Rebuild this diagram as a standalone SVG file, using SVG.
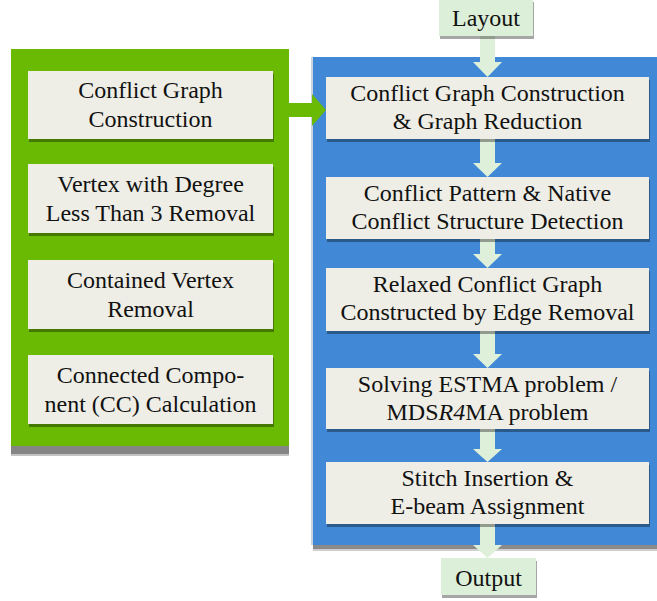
<svg xmlns="http://www.w3.org/2000/svg" width="657" height="601" viewBox="0 0 657 601">
<style>
.box{fill:#eeeee6}
.io{fill:#dcefd8}
.sd{fill:#000;opacity:0.35}
.arr{fill:#dff0da}
text, tspan{font-family:'Liberation Serif','Times New Roman',serif !important}
</style>
<rect width="657" height="601" fill="#fff"/>
<g id="panel-green">
<rect x="11" y="446" width="278" height="8" fill="#858585"/>
<rect x="11" y="454" width="278" height="2" fill="#c4c4c4"/>
<rect x="11" y="49" width="278" height="397" fill="#6ab902"/>
</g>
<g id="panel-blue">
<rect x="313" y="545" width="344" height="4" fill="#8a8a8a"/>
<rect x="313" y="549" width="344" height="2" fill="#cfcfcf"/>
<rect x="311" y="57" width="2" height="488" fill="#c8d4e0"/>
<rect x="313" y="57" width="344" height="488" fill="#4189d6"/>
</g>
<g id="connectors">
<polygon class="arr" points="480,36 495,36 495,62 502,62 487.5,77 473,62 480,62"/>
<polygon class="arr" points="480,139 495,139 495,163 502,163 487.5,177 473,163 480,163"/>
<polygon class="arr" points="480,239 495,239 495,254 502,254 487.5,268 473,254 480,254"/>
<polygon class="arr" points="480,331 495,331 495,354 502,354 487.5,368 473,354 480,354"/>
<polygon class="arr" points="480,429 495,429 495,449 502,449 487.5,462 473,449 480,449"/>
<polygon class="arr" points="480,524 495,524 495,545 502,545 487.5,558 473,545 480,545"/>
<polygon points="289,103 312,103 312,94 326,110 312,126 312,117 289,117" fill="#6ab902"/>
</g>
<g id="layout">
<rect class="sd" x="440" y="2" width="94" height="37"/>
<rect class="io" x="439" y="0" width="94" height="36"/>
<text x="486" y="26" font-family="Liberation Serif" font-size="24" fill="#111" text-anchor="middle" style="font-family:'Liberation Serif',serif !important">Layout</text>
</g>
<g id="output">
<rect class="sd" x="442" y="561" width="95" height="37"/>
<rect class="io" x="441" y="558" width="95" height="37"/>
<text x="488.5" y="586" font-family="Liberation Serif" font-size="24" fill="#111" text-anchor="middle" style="font-family:'Liberation Serif',serif !important">Output</text>
</g>
<g id="l1">
<rect class="sd" x="29" y="74" width="245" height="68"/>
<rect class="box" x="28" y="71" width="245" height="68"/>
<text x="150.5" y="98" font-family="Liberation Serif" font-size="24" fill="#111" text-anchor="middle" style="font-family:'Liberation Serif',serif !important">Conflict Graph</text>
<text x="150.5" y="127" font-family="Liberation Serif" font-size="24" fill="#111" text-anchor="middle" style="font-family:'Liberation Serif',serif !important">Construction</text>
</g>
<g id="l2">
<rect class="sd" x="29" y="167" width="245" height="69"/>
<rect class="box" x="28" y="164" width="245" height="69"/>
<text x="150.5" y="192" font-family="Liberation Serif" font-size="24" fill="#111" text-anchor="middle" style="font-family:'Liberation Serif',serif !important">Vertex with Degree</text>
<text x="150.5" y="221" font-family="Liberation Serif" font-size="24" fill="#111" text-anchor="middle" style="font-family:'Liberation Serif',serif !important">Less Than 3 Removal</text>
</g>
<g id="l3">
<rect class="sd" x="29" y="263" width="245" height="69"/>
<rect class="box" x="28" y="260" width="245" height="69"/>
<text x="150.5" y="288" font-family="Liberation Serif" font-size="24" fill="#111" text-anchor="middle" style="font-family:'Liberation Serif',serif !important">Contained Vertex</text>
<text x="150.5" y="317" font-family="Liberation Serif" font-size="24" fill="#111" text-anchor="middle" style="font-family:'Liberation Serif',serif !important">Removal</text>
</g>
<g id="l4">
<rect class="sd" x="29" y="358" width="245" height="69"/>
<rect class="box" x="28" y="355" width="245" height="69"/>
<text x="150.5" y="383" font-family="Liberation Serif" font-size="24" fill="#111" text-anchor="middle" style="font-family:'Liberation Serif',serif !important">Connected Compo-</text>
<text x="150.5" y="412" font-family="Liberation Serif" font-size="24" fill="#111" text-anchor="middle" style="font-family:'Liberation Serif',serif !important">nent (CC) Calculation</text>
</g>
<g id="r1">
<rect class="sd" x="327" y="80" width="323" height="62"/>
<rect class="box" x="326" y="77" width="323" height="62"/>
<text x="487.5" y="101" font-family="Liberation Serif" font-size="24" fill="#111" text-anchor="middle" style="font-family:'Liberation Serif',serif !important">Conflict Graph Construction</text>
<text x="487.5" y="129" font-family="Liberation Serif" font-size="24" fill="#111" text-anchor="middle" style="font-family:'Liberation Serif',serif !important">&amp; Graph Reduction</text>
</g>
<g id="r2">
<rect class="sd" x="327" y="180" width="323" height="62"/>
<rect class="box" x="326" y="177" width="323" height="62"/>
<text x="487.5" y="201" font-family="Liberation Serif" font-size="24" fill="#111" text-anchor="middle" style="font-family:'Liberation Serif',serif !important">Conflict Pattern &amp; Native</text>
<text x="487.5" y="229" font-family="Liberation Serif" font-size="24" fill="#111" text-anchor="middle" style="font-family:'Liberation Serif',serif !important">Conflict Structure Detection</text>
</g>
<g id="r3">
<rect class="sd" x="327" y="271" width="323" height="63"/>
<rect class="box" x="326" y="268" width="323" height="63"/>
<text x="487.5" y="292" font-family="Liberation Serif" font-size="24" fill="#111" text-anchor="middle" style="font-family:'Liberation Serif',serif !important">Relaxed Conflict Graph</text>
<text x="487.5" y="320" font-family="Liberation Serif" font-size="24" fill="#111" text-anchor="middle" style="font-family:'Liberation Serif',serif !important">Constructed by Edge Removal</text>
</g>
<g id="r4">
<rect class="sd" x="327" y="371" width="323" height="61"/>
<rect class="box" x="326" y="368" width="323" height="61"/>
<text x="487.5" y="392" font-family="Liberation Serif" font-size="24" fill="#111" text-anchor="middle" style="font-family:'Liberation Serif',serif !important">Solving ESTMA problem /</text>
<text x="487.5" y="420" font-family="Liberation Serif" font-size="24" fill="#111" text-anchor="middle" style="font-family:'Liberation Serif',serif !important">MDS<tspan font-style="italic">R4</tspan>MA problem</text>
</g>
<g id="r5">
<rect class="sd" x="327" y="465" width="323" height="62"/>
<rect class="box" x="326" y="462" width="323" height="62"/>
<text x="487.5" y="486" font-family="Liberation Serif" font-size="24" fill="#111" text-anchor="middle" style="font-family:'Liberation Serif',serif !important">Stitch Insertion &amp;</text>
<text x="487.5" y="514" font-family="Liberation Serif" font-size="24" fill="#111" text-anchor="middle" style="font-family:'Liberation Serif',serif !important">E-beam Assignment</text>
</g>
</svg>
